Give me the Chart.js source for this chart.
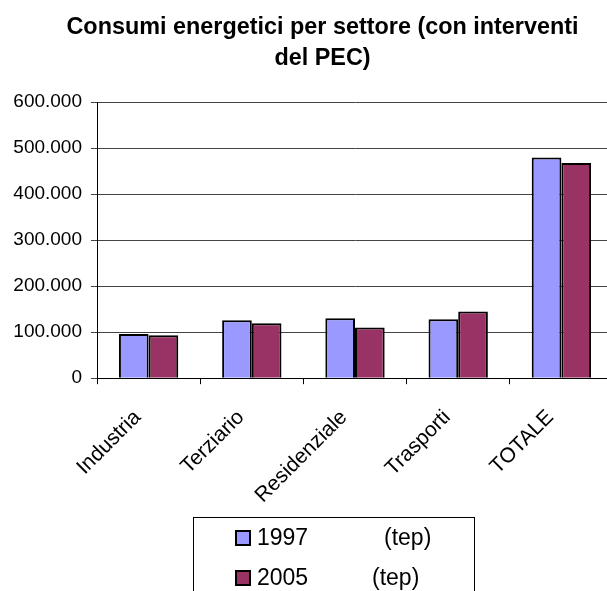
<!DOCTYPE html>
<html>
<head>
<meta charset="utf-8">
<script src="https://cdn.jsdelivr.net/npm/chart.js@4"></script>
<style>
  html, body { margin: 0; padding: 0; background: #fff; overflow: hidden; }
  #wrap { position: relative; width: 644px; height: 591px; }
</style>
</head>
<body>
<div id="wrap"><canvas id="chart"></canvas></div>
<script>
// dati
const settori = ['Industria', 'Terziario', 'Residenziale', 'Trasporti', 'TOTALE'];
const consumi1997 = [96000, 126000, 130500, 128000, 480000];
const consumi2005 = [93500, 119500, 110000, 145000, 468000];
const nomiSerie = ['1997', '2005'];
const unita = '(tep)';

const FONT = '"Liberation Sans", Arial, sans-serif';

const formatta = function (v) {
    return String(v).replace(/\B(?=(\d{3})+(?!\d))/g, '.');
};

// le etichette dell'asse y escono a sinistra del box dell'asse: allargo l'area di clip
const etichetteY = {
    id: 'etichetteY',
    afterLayout: function (chart) {
        chart.scales.y.left = 0;
    }
};

// legenda con bordo, disegnata sotto il grafico
const legendaBox = {
    id: 'legendaBox',
    afterDraw: function (chart) {
        const ctx = chart.ctx;
        ctx.save();
        ctx.strokeStyle = '#000';
        ctx.lineWidth = 1;
        ctx.strokeRect(193.5, 517.5, 281, 90);
        ctx.font = '23px ' + FONT;
        ctx.textBaseline = 'middle';
        const tepX = [384, 372];
        chart.data.datasets.forEach(function (ds, i) {
            const y = 538 + i * 40;
            ctx.fillStyle = ds.backgroundColor;
            ctx.fillRect(236, y - 7, 14, 14);
            ctx.strokeStyle = '#000';
            ctx.lineWidth = 2;
            ctx.strokeRect(236, y - 7, 14, 14);
            ctx.fillStyle = '#000';
            ctx.fillText(ds.label, 257, y + 1);
            ctx.fillText(unita, tepX[i], y + 1);
        });
        ctx.restore();
    }
};

new Chart(document.getElementById('chart'), {
    type: 'bar',
    data: {
        labels: settori,
        datasets: [{
            label: nomiSerie[0],
            data: consumi1997,
            backgroundColor: '#9999FF',
            borderColor: '#000',
            borderWidth: 2
        }, {
            label: nomiSerie[1],
            data: consumi2005,
            backgroundColor: '#993366',
            borderColor: '#000',
            borderWidth: 2
        }]
    },
    options: {
        responsive: true,
        maintainAspectRatio: false,
        animation: false,
        layout: {
            padding: { left: 32, right: 31, top: 0, bottom: 62 }
        },
        datasets: {
            bar: { categoryPercentage: 0.575, barPercentage: 1 }
        },
        plugins: {
            legend: { display: false },
            tooltip: { enabled: false },
            title: {
                display: true,
                text: ['Consumi energetici per settore (con interventi', 'del PEC)'],
                color: '#000',
                font: { family: FONT, size: 23.4, weight: 'bold', lineHeight: 1.33 },
                padding: { top: 11.5, bottom: 28.5 }
            }
        },
        scales: {
            x: {
                grid: { drawOnChartArea: false, drawTicks: true, tickLength: 6, color: '#000', offset: true },
                border: { color: '#000', width: 1 },
                ticks: {
                    color: '#000',
                    minRotation: 45,
                    maxRotation: 45,
                    labelOffset: -11,
                    padding: 21,
                    font: { family: FONT, size: 21 }
                }
            },
            y: {
                min: 0,
                max: 600000,
                afterFit: function (scale) { scale.width = 65; },
                grid: { color: '#444', tickLength: 6 },
                border: { color: '#000', width: 1 },
                ticks: {
                    stepSize: 100000,
                    color: '#000',
                    padding: 9,
                    font: { family: FONT, size: 19 },
                    callback: function (v) { return formatta(v); }
                }
            }
        }
    },
    plugins: [etichetteY, legendaBox]
});
</script>
</body>
</html>
